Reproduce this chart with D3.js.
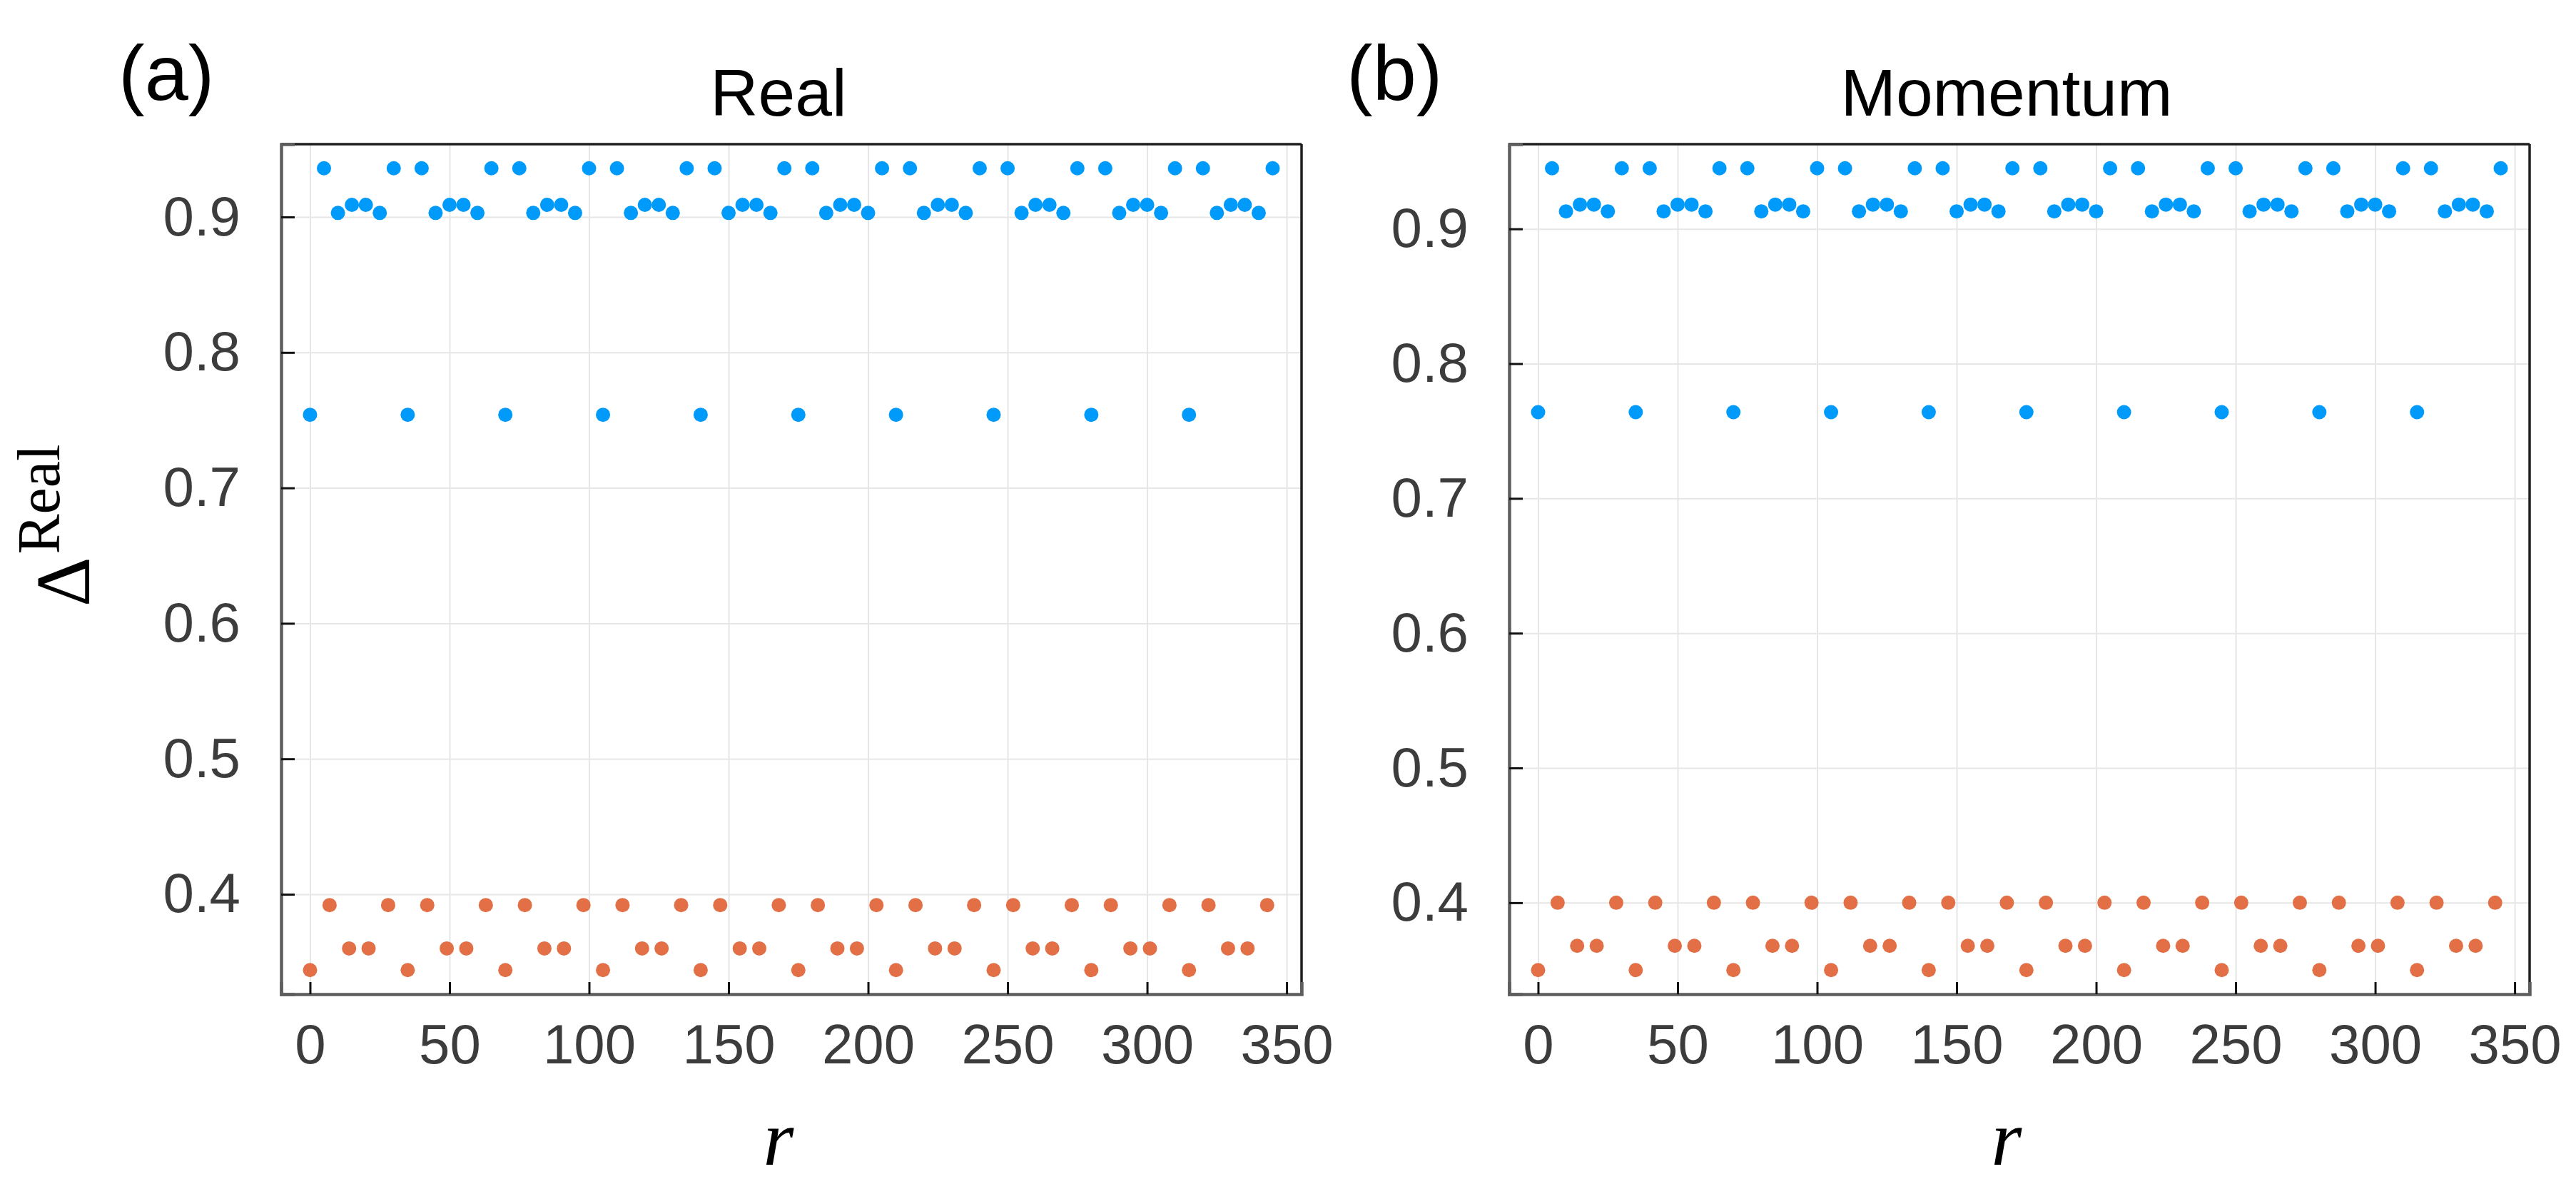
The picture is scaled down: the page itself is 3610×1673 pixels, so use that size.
<html>
<head>
<script src='https://d3js.org/d3.v7.min.js'></script>
<style>
  body { margin: 0; background: white; }
  .tick text { font-family: 'Liberation Sans', Arial, sans-serif; fill: #3c3c3c; }
  .grid line { stroke: #e6e6e6; stroke-width: 2; }
  .grid path { display: none; }
</style>
</head>
<body>
<svg width=3610 height=1673></svg>
<script>
// r positions
var rBlue = [0,5,10,15,20,25,30, 35,40,45,50,55,60,65, 70,75,80,85,90,95,100,
  105,110,115,120,125,130,135, 140,145,150,155,160,165,170, 175,180,185,190,195,200,205,
  210,215,220,225,230,235,240, 245,250,255,260,265,270,275, 280,285,290,295,300,305,310,
  315,320,325,330,335,340,345];
var rOrange = [0,7,14,21,28, 35,42,49,56,63, 70,77,84,91,98, 105,112,119,126,133,
  140,147,154,161,168, 175,182,189,196,203, 210,217,224,231,238, 245,252,259,266,273,
  280,287,294,301,308, 315,322,329,336,343];

// (a) Real
var realBlue = [
  0.754,0.936,0.903,0.909,0.909,0.903,0.936,
  0.754,0.936,0.903,0.909,0.909,0.903,0.936,
  0.754,0.936,0.903,0.909,0.909,0.903,0.936,
  0.754,0.936,0.903,0.909,0.909,0.903,0.936,
  0.754,0.936,0.903,0.909,0.909,0.903,0.936,
  0.754,0.936,0.903,0.909,0.909,0.903,0.936,
  0.754,0.936,0.903,0.909,0.909,0.903,0.936,
  0.754,0.936,0.903,0.909,0.909,0.903,0.936,
  0.754,0.936,0.903,0.909,0.909,0.903,0.936,
  0.754,0.936,0.903,0.909,0.909,0.903,0.936];
var realOrange = [
  0.344,0.392,0.360,0.360,0.392, 0.344,0.392,0.360,0.360,0.392,
  0.344,0.392,0.360,0.360,0.392, 0.344,0.392,0.360,0.360,0.392,
  0.344,0.392,0.360,0.360,0.392, 0.344,0.392,0.360,0.360,0.392,
  0.344,0.392,0.360,0.360,0.392, 0.344,0.392,0.360,0.360,0.392,
  0.344,0.392,0.360,0.360,0.392, 0.344,0.392,0.360,0.360,0.392];

// (b) Momentum
var momBlue = [
  0.764,0.945,0.913,0.918,0.918,0.913,0.945,
  0.764,0.945,0.913,0.918,0.918,0.913,0.945,
  0.764,0.945,0.913,0.918,0.918,0.913,0.945,
  0.764,0.945,0.913,0.918,0.918,0.913,0.945,
  0.764,0.945,0.913,0.918,0.918,0.913,0.945,
  0.764,0.945,0.913,0.918,0.918,0.913,0.945,
  0.764,0.945,0.913,0.918,0.918,0.913,0.945,
  0.764,0.945,0.913,0.918,0.918,0.913,0.945,
  0.764,0.945,0.913,0.918,0.918,0.913,0.945,
  0.764,0.945,0.913,0.918,0.918,0.913,0.945];
var momOrange = [
  0.350,0.400,0.368,0.368,0.400, 0.350,0.400,0.368,0.368,0.400,
  0.350,0.400,0.368,0.368,0.400, 0.350,0.400,0.368,0.368,0.400,
  0.350,0.400,0.368,0.368,0.400, 0.350,0.400,0.368,0.368,0.400,
  0.350,0.400,0.368,0.368,0.400, 0.350,0.400,0.368,0.368,0.400,
  0.350,0.400,0.368,0.368,0.400, 0.350,0.400,0.368,0.368,0.400];

var xTicks = [0,50,100,150,200,250,300,350];
var yTicks = [0.4,0.5,0.6,0.7,0.8,0.9];

var svg = d3.select('svg');
var W = 1430, H = 1191;

// pad the data range by 3% on each side, like the plotting lib did
function padded(vals) {
  var e = d3.extent(vals);
  var m = (e[1]-e[0])*0.03;
  return [e[0]-m, e[1]+m];
}

function drawPanel(left, top, blue, orange, title, tag) {
  var x = d3.scaleLinear().domain(padded(rBlue.concat(rOrange))).range([0, W]);
  var y = d3.scaleLinear().domain(padded(blue.concat(orange))).range([H, 0]);
  var g = svg.append('g').attr('transform', 'translate('+left+','+top+')');

  // grid
  g.append('g').attr('class','grid').attr('transform','translate(0,'+H+')')
    .call(d3.axisBottom(x).tickValues(xTicks).tickSize(-H).tickFormat(''));
  g.append('g').attr('class','grid')
    .call(d3.axisLeft(y).tickValues(yTicks).tickSize(-W).tickFormat(''));

  // points
  g.append('g').selectAll('circle').data(rBlue).enter().append('circle')
    .attr('cx', d => x(d)).attr('cy', (d,i) => y(blue[i])).attr('r', 10)
    .style('fill', '#009AFA');
  g.append('g').selectAll('circle').data(rOrange).enter().append('circle')
    .attr('cx', d => x(d)).attr('cy', (d,i) => y(orange[i])).attr('r', 10)
    .style('fill', '#E26F46');

  // frame: top/right thin dark, left/bottom grey
  g.append('line').attr('x1',0).attr('x2',W).attr('y1',0).attr('y2',0)
    .attr('stroke','#1e1e1e').attr('stroke-width',3.5);
  g.append('line').attr('x1',W).attr('x2',W).attr('y1',0).attr('y2',H)
    .attr('stroke','#1e1e1e').attr('stroke-width',3.5);

  var xa = g.append('g').attr('transform','translate(0,'+H+')')
    .call(d3.axisBottom(x).tickValues(xTicks).tickSize(-17).tickPadding(42).tickFormat(d3.format('d')));
  var ya = g.append('g')
    .call(d3.axisLeft(y).tickValues(yTicks).tickSize(-19).tickPadding(57).tickFormat(d3.format('.1f')));
  [xa, ya].forEach(function(a) {
    a.select('.domain').attr('stroke','#5e5e5e').attr('stroke-width',4.5);
    a.selectAll('.tick line').attr('stroke','#111').attr('stroke-width',3);
    a.selectAll('.tick text').style('font-size','78px');
  });

  // title
  g.append('text').attr('x', W/2 - 18).attr('y', 162 - top)
    .attr('text-anchor','middle')
    .style('font-family',"'Liberation Sans', Arial, sans-serif")
    .style('font-size','93px').style('fill','#000').text(title);

  // panel tag
  svg.append('text').attr('x', left - 228).attr('y', 140)
    .style('font-family',"'Liberation Sans', Arial, sans-serif")
    .style('font-size','110px').style('fill','#000').text(tag);

  // x label
  g.append('text').attr('x', W/2 - 18).attr('y', 1632 - top)
    .attr('text-anchor','middle')
    .style('font-family',"'Liberation Serif', serif")
    .style('font-style','italic')
    .style('font-size','110px').style('fill','#000').text('r');
}

drawPanel(394, 202, realBlue, realOrange, 'Real', '(a)');
drawPanel(2115, 202, momBlue, momOrange, 'Momentum', '(b)');

// y label, only on the left panel
var yl = svg.append('text').attr('transform','translate(125,850) rotate(-90)')
  .style('font-family',"'Liberation Serif', 'DejaVu Serif', serif").style('fill','#000');
yl.append('tspan').style('font-size','108px').text('Δ');
yl.append('tspan').attr('dy',-42).attr('dx',4).style('font-size','84px').text('Real');
</script>
</body>
</html>
